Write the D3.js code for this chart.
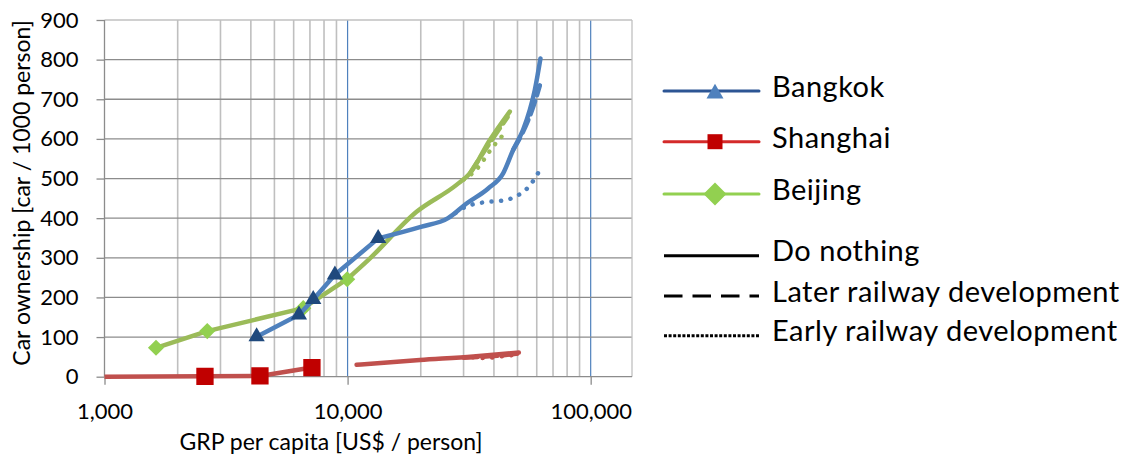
<!DOCTYPE html>
<html>
<head>
<meta charset="utf-8">
<script src="https://cdn.jsdelivr.net/npm/d3@7"></script>
<style>
  body { margin: 0; background: #fff; }
  svg { font-family: Lato, 'Open Sans', sans-serif; }
</style>
</head>
<body>
<svg id="chart" width="1135" height="464"></svg>
<script>
// [GRP per capita (US$/person), car ownership (car/1000 person)]
const bangkokHist = [[4225, 101], [6307, 156], [7222, 195], [8867, 257], [13360, 349]];
const bangkokNothing = [[13360, 349], [20000, 378], [25900, 400], [30850, 437], [37870, 475], [43630, 513], [47970, 572], [52720, 623], [56190, 673], [58890, 723], [62150, 803]];
const bangkokLater = [[47970, 572], [52600, 617], [56400, 660], [59400, 700], [61800, 735]];
const bangkokEarly = [[27800, 413], [30850, 430], [34100, 437], [37500, 441], [41500, 443], [45700, 447], [50300, 458], [54400, 473], [58000, 494], [61200, 517]];

const shanghaiHist = [[900, 0], [2590, 1], [4360, 2], [7134, 23]];
const shanghaiNothing = [[10890, 30], [19830, 42], [32860, 51], [50630, 61]];
const shanghaiLater = [[30000, 48], [40000, 52], [49800, 58]];
const shanghaiEarly = [[32800, 49], [35700, 47], [39000, 48], [42500, 51], [47000, 54], [50000, 57]];

const beijingHist = [[1629, 73], [2647, 115], [6571, 173], [9960, 246]];
const beijingNothing = [[9960, 246], [12150, 294], [19220, 416], [28060, 484], [31840, 513], [38480, 597], [46480, 669]];
const beijingLater = [[31840, 513], [38000, 585], [45500, 655]];
const beijingEarly = [[30000, 497], [31330, 505], [33900, 523], [36120, 545], [38220, 567], [40600, 588], [43370, 608]];

const xTicks = [1000, 10000, 100000];
const yTicks = [0, 100, 200, 300, 400, 500, 600, 700, 800, 900];
const cities = ['Bangkok', 'Shanghai', 'Beijing'];
const scenarios = ['Do nothing', 'Later railway development', 'Early railway development'];

const svg = d3.select('#chart');
const pLeft = 104.5, pRight = 632, pTop = 20, pBottom = 376.7;

const x = d3.scaleLog().domain([1000, Math.pow(10, 5.17)]).range([pLeft, pRight]);
const y = d3.scaleLinear().domain([0, 900]).range([pBottom, pTop]);

// 网格
const grid = svg.append('g');
grid.selectAll('line.v').data(x.ticks().filter(d => d > 1000)).enter()
  .append('line')
  .attr('x1', d => x(d)).attr('x2', d => x(d))
  .attr('y1', pTop).attr('y2', pBottom)
  .attr('stroke', d => xTicks.indexOf(d) >= 0 ? '#4f81bd' : '#bfbfbf')
  .attr('stroke-width', d => xTicks.indexOf(d) >= 0 ? 1.2 : 1.6);
grid.selectAll('line.h').data(yTicks.filter(d => d > 0)).enter()
  .append('line')
  .attr('x1', pLeft).attr('x2', pRight)
  .attr('y1', d => y(d)).attr('y2', d => y(d))
  .attr('stroke', d => d === 900 ? '#c0c0c0' : '#8c8c8c')
  .attr('stroke-width', 1.3);
grid.append('line')
  .attr('x1', pRight).attr('x2', pRight).attr('y1', pTop).attr('y2', pBottom)
  .attr('stroke', '#c0c0c0').attr('stroke-width', 1.3);

// 坐标轴
const yAxis = d3.axisLeft(y).tickValues(yTicks).tickSize(8).tickPadding(18);
const gy = svg.append('g').attr('transform', `translate(${pLeft},0)`).call(yAxis);
const xAxis = d3.axisBottom(x).tickValues(xTicks).tickSize(8).tickFormat(d3.format(','));
const gx = svg.append('g').attr('transform', `translate(0,${pBottom})`).call(xAxis);
[gx, gy].forEach(g => {
  g.select('.domain').attr('stroke', '#8c8c8c').attr('stroke-width', 1.3);
  g.selectAll('.tick line').attr('stroke', '#8c8c8c').attr('stroke-width', 1.3);
  g.selectAll('text').attr('font-size', 22).attr('fill', '#000');
  g.attr('font-family', null);
});
gy.select('.domain').attr('d', `M0,${pTop}V${pBottom}`);
gx.select('.domain').attr('d', `M${pLeft},0H${pRight}`);
gx.selectAll('text').attr('y', 42).attr('dy', null);

svg.append('text')
  .attr('x', 331).attr('y', 450)
  .attr('text-anchor', 'middle').attr('font-size', 23)
  .text('GRP per capita [US$ / person]');
svg.append('text')
  .attr('transform', 'translate(30,193) rotate(-90)')
  .attr('text-anchor', 'middle').attr('font-size', 23)
  .text('Car ownership [car / 1000 person]');

// 折线
svg.append('defs').append('clipPath').attr('id', 'plot-clip')
  .append('rect').attr('x', pLeft).attr('y', 0).attr('width', pRight - pLeft).attr('height', pBottom + 10);
const plot = svg.append('g').attr('clip-path', 'url(#plot-clip)');

const line = d3.line().x(d => x(d[0])).y(d => y(d[1]));
const smooth = d3.line().x(d => x(d[0])).y(d => y(d[1])).curve(d3.curveMonotoneX);

const dash = { nothing: null, later: '14 6', early: '0.1 9.5' };

function drawCity(hist, nothing, later, early, color, markerColor, symbol, size, rotate) {
  const g = plot.append('g');
  [[early, dash.early], [later, dash.later], [nothing, dash.nothing]].forEach(s => {
    g.append('path')
      .attr('d', smooth(s[0]))
      .attr('fill', 'none')
      .attr('stroke', color)
      .attr('stroke-width', 4.5)
      .attr('stroke-linecap', 'round')
      .attr('stroke-linejoin', 'round')
      .attr('stroke-dasharray', s[1]);
  });
  g.append('path')
    .attr('d', line(hist))
    .attr('fill', 'none')
    .attr('stroke', color)
    .attr('stroke-width', 4.5)
    .attr('stroke-linejoin', 'round');
  g.selectAll('path.mark').data(hist).enter()
    .append('path')
    .attr('d', d3.symbol(symbol, size)())
    .attr('transform', d => `translate(${x(d[0])},${y(d[1])}) rotate(${rotate})`)
    .attr('fill', markerColor);
}

drawCity(shanghaiHist, shanghaiNothing, shanghaiLater, shanghaiEarly, '#c0504d', '#c00000', d3.symbolSquare, 300, 0);
drawCity(beijingHist, beijingNothing, beijingLater, beijingEarly, '#9bbb59', '#92d050', d3.symbolSquare, 130, 45);
drawCity(bangkokHist, bangkokNothing, bangkokLater, bangkokEarly, '#4f81bd', '#1f497d', d3.symbolTriangle, 115, 0);

// 图例
const legend = svg.append('g');
const lx1 = 664, lx2 = 759, lm = 715, tx = 772;
const cityStyle = [
  { y: 91, line: '#2c5594', fill: '#4f81bd', symbol: d3.symbolTriangle, size: 125, rotate: 0, dy: 2.5 },
  { y: 141.7, line: '#d42a2a', fill: '#c00000', symbol: d3.symbolSquare, size: 225, rotate: 0, dy: 0 },
  { y: 194, line: '#92d050', fill: '#92d050', symbol: d3.symbolSquare, size: 265, rotate: 45, dy: 0 }
];
cities.forEach((name, i) => {
  const s = cityStyle[i];
  legend.append('line')
    .attr('x1', lx1).attr('x2', lx2).attr('y1', s.y).attr('y2', s.y)
    .attr('stroke', s.line).attr('stroke-width', 3).attr('stroke-linecap', 'round');
  legend.append('path')
    .attr('d', d3.symbol(s.symbol, s.size)())
    .attr('transform', `translate(${lm},${s.y + s.dy}) rotate(${s.rotate})`)
    .attr('fill', s.fill);
  legend.append('text')
    .attr('x', tx).attr('y', s.y + 6)
    .attr('font-size', 29).attr('letter-spacing', 0.5)
    .text(name);
});
const scenY = [255.7, 296, 335.7];
const scenDash = [null, '18.5 10', '3 1.6'];
scenarios.forEach((name, i) => {
  legend.append('line')
    .attr('x1', lx1).attr('x2', lx2).attr('y1', scenY[i]).attr('y2', scenY[i])
    .attr('stroke', '#000').attr('stroke-width', 3)
    .attr('stroke-dasharray', scenDash[i]);
  legend.append('text')
    .attr('x', tx).attr('y', scenY[i] + 5.5)
    .attr('font-size', 29).attr('letter-spacing', 0.5)
    .text(name);
});
</script>
</body>
</html>
